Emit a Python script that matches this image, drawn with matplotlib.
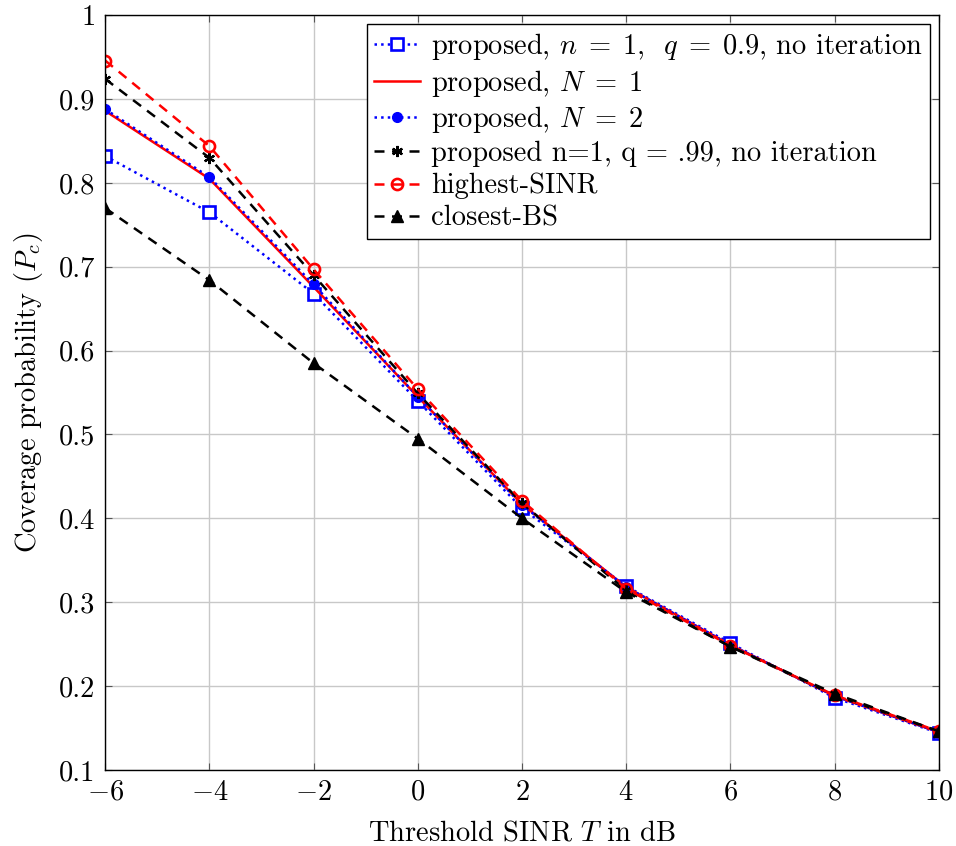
import matplotlib
matplotlib.use("Agg")
import matplotlib.pyplot as plt

plt.rcParams['font.family'] = ['cmr10']
plt.rcParams['mathtext.fontset'] = 'cm'
plt.rcParams['axes.formatter.use_mathtext'] = True
plt.rcParams['axes.unicode_minus'] = True

T_dB = [-6, -4, -2, 0, 2, 4, 6, 8, 10]
prop_n1_q09 = [0.832, 0.765, 0.668, 0.540, 0.412, 0.319, 0.251, 0.186, 0.144]
prop_N1 = [0.886, 0.805, 0.676, 0.545, 0.417, 0.318, 0.249, 0.188, 0.145]
prop_N2 = [0.888, 0.807, 0.679, 0.545, 0.416, 0.318, 0.249, 0.188, 0.145]
prop_n1_q099 = [0.924, 0.830, 0.690, 0.549, 0.418, 0.314, 0.247, 0.189, 0.146]
highest_sinr = [0.946, 0.844, 0.697, 0.554, 0.421, 0.316, 0.248, 0.189, 0.146]
closest_bs = [0.770, 0.684, 0.585, 0.495, 0.400, 0.312, 0.247, 0.191, 0.146]

labels = [r'proposed, $n\;=\;1$,  $q\;=\;0.9$, no iteration',
          r'proposed, $N\;=\;1$',
          r'proposed, $N\;=\;2$',
          'proposed n=1, q = .99, no iteration',
          'highest-SINR',
          'closest-BS']

FS = 20.5

fig = plt.figure(figsize=(9.56, 8.46), dpi=100)
ax = fig.add_axes([0.110, 0.090, 0.872, 0.892])

ax.plot(T_dB, prop_n1_q09, color='#0000ff', linestyle=':', linewidth=1.8,
        marker='s', markersize=8, markerfacecolor='white', markeredgewidth=1.9, label=labels[0])
ax.plot(T_dB, prop_N1, color='#ff0000', linestyle='-', linewidth=1.8, label=labels[1])
ax.plot(T_dB, prop_N2, color='#0000ff', linestyle=':', linewidth=1.8,
        marker='o', markersize=7, label=labels[2])
ax.plot(T_dB, prop_n1_q099, color='black', linestyle=(0, (4, 3)), linewidth=1.8,
        marker=(6, 2, 0), markersize=8, markeredgewidth=1.6, label=labels[3])
ax.plot(T_dB, highest_sinr, color='#ff0000', linestyle=(0, (4, 3)), linewidth=1.8,
        marker='o', markersize=8, markerfacecolor='none', markeredgewidth=1.9, label=labels[4])
ax.plot(T_dB, closest_bs, color='black', linestyle=(0, (4, 3)), linewidth=1.8,
        marker='^', markersize=8, label=labels[5])

ax.set_xlim(-6, 10)
ax.set_ylim(0.1, 1.0)
ax.set_xticks([-6, -4, -2, 0, 2, 4, 6, 8, 10])
ax.set_yticks([0.1, 0.2, 0.3, 0.4, 0.5, 0.6, 0.7, 0.8, 0.9, 1.0])
ax.set_yticklabels(['0.1', '0.2', '0.3', '0.4', '0.5', '0.6', '0.7', '0.8', '0.9', '1'])
ax.grid(True, color='#c8c8c8', linewidth=1.0)
ax.set_axisbelow(True)
ax.tick_params(direction='in', top=True, right=True, length=5, width=0.8,
               labelsize=FS, color='#555555', pad=7)
for s in ax.spines.values():
    s.set_linewidth(1.0)

ax.set_xlabel(r'Threshold SINR $T$ in dB', fontsize=FS, labelpad=10)
ax.set_ylabel(r'Coverage probability ($P_c$)', fontsize=FS, labelpad=10)

leg = ax.legend(loc='upper right', fontsize=FS, frameon=True, fancybox=False,
                edgecolor='black', framealpha=1.0, handlelength=1.6,
                handletextpad=0.4, borderpad=0.25, labelspacing=0.2,
                borderaxespad=0.3)
leg.get_frame().set_linewidth(1.0)

fig.savefig('out.png', dpi=100)
